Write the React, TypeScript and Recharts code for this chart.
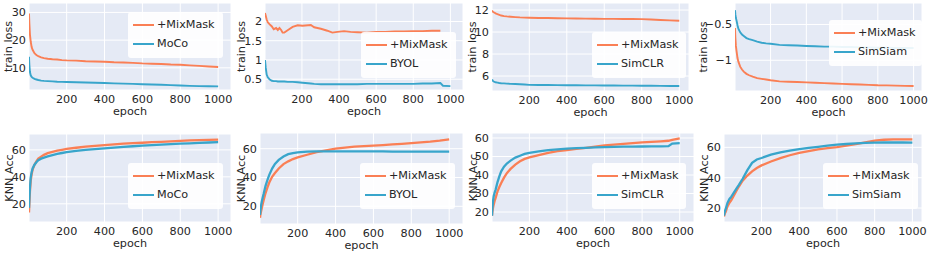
import React from 'react';
import { LineChart, Line, XAxis, YAxis, CartesianGrid, Legend } from 'recharts';

// ---------- data ----------
const EPOCHS = [1, 3, 6, 10, 15, 20, 30, 40, 50, 65, 80, 100, 125, 150, 175, 200, 250, 300, 350, 400, 450, 500, 550, 600, 650, 700, 750, 800, 850, 900, 950, 1000];
const X_TICKS = [200, 400, 600, 800, 1000];
const MIX_NAME = '+MixMask';
const BASE_NAMES = ['MoCo', 'BYOL', 'SimCLR', 'SimSiam'];
const Y_LABELS = ['train loss', 'KNN Acc'];
const X_LABEL = 'epoch';

// train loss
const MOCO_LOSS_MIX = [29.6, 26, 22, 19.5, 17.5, 16.5, 15.3, 14.6, 14.2, 13.8, 13.5, 13.3, 13.1, 13.0, 12.8, 12.7, 12.6, 12.4, 12.3, 12.2, 12.0, 11.9, 11.8, 11.6, 11.5, 11.4, 11.2, 11.1, 10.9, 10.7, 10.5, 10.3];
const MOCO_LOSS = [14, 11, 8.5, 7.3, 6.7, 6.4, 6.0, 5.8, 5.6, 5.4, 5.3, 5.2, 5.1, 5.0, 4.95, 4.9, 4.8, 4.7, 4.6, 4.5, 4.4, 4.3, 4.2, 4.1, 4.0, 3.9, 3.75, 3.6, 3.5, 3.4, 3.35, 3.3];

const BYOL_EPOCHS = [1, 5, 10, 16, 25, 38, 48, 61, 70, 79, 88, 96, 105, 123, 150, 177, 203, 248, 266, 302, 337, 364, 391, 427, 462, 500, 550, 600, 650, 700, 750, 800, 850, 900, 946, 960, 1000];
const BYOL_LOSS_MIX = [2.22, 2.15, 2.05, 1.98, 1.93, 1.87, 1.8, 1.83, 1.78, 1.83, 1.78, 1.71, 1.71, 1.77, 1.86, 1.9, 1.89, 1.91, 1.85, 1.81, 1.76, 1.71, 1.73, 1.75, 1.73, 1.72, 1.71, 1.73, 1.73, 1.74, 1.74, 1.75, 1.75, 1.76, 1.76, null, null];
const BYOL_LOSS = [1.0, 0.8, 0.62, 0.55, 0.5, 0.46, 0.45, 0.45, 0.44, 0.44, 0.44, 0.44, 0.44, 0.43, 0.43, 0.42, 0.41, 0.39, 0.38, 0.37, 0.37, 0.37, 0.37, 0.37, 0.37, 0.37, 0.38, 0.38, 0.38, 0.38, 0.38, 0.38, 0.39, 0.39, 0.40, 0.33, 0.32];

const SIMCLR_LOSS_MIX = [11.95, 11.9, 11.85, 11.8, 11.75, 11.7, 11.62, 11.56, 11.5, 11.45, 11.42, 11.39, 11.36, 11.33, 11.31, 11.3, 11.28, 11.27, 11.25, 11.24, 11.23, 11.22, 11.21, 11.2, 11.2, 11.19, 11.18, 11.17, 11.14, 11.1, 11.06, 11.02];
const SIMCLR_LOSS = [5.68, 5.62, 5.56, 5.5, 5.46, 5.43, 5.4, 5.37, 5.35, 5.33, 5.31, 5.29, 5.27, 5.25, 5.23, 5.2, 5.19, 5.18, 5.17, 5.16, 5.16, 5.15, 5.15, 5.14, 5.14, 5.13, 5.13, 5.12, 5.12, 5.11, 5.1, 5.1];

const SIMSIAM_LOSS_MIX = [-0.55, -0.68, -0.8, -0.88, -0.97, -1.02, -1.09, -1.13, -1.16, -1.19, -1.21, -1.23, -1.25, -1.26, -1.27, -1.28, -1.295, -1.3, -1.305, -1.31, -1.315, -1.32, -1.325, -1.33, -1.335, -1.34, -1.345, -1.35, -1.352, -1.355, -1.358, -1.36];
const SIMSIAM_LOSS = [-0.3, -0.36, -0.41, -0.45, -0.51, -0.56, -0.61, -0.64, -0.66, -0.69, -0.705, -0.72, -0.74, -0.755, -0.765, -0.77, -0.785, -0.79, -0.795, -0.8, -0.805, -0.81, -0.81, -0.815, -0.815, -0.82, -0.82, -0.825, -0.825, -0.83, -0.83, -0.83];

// KNN accuracy
const MOCO_ACC_MIX = [13.5, 20, 29, 37, 42, 45.3, 49, 51.5, 53.5, 55, 56.3, 57.6, 58.6, 59.5, 60.1, 60.7, 61.6, 62.4, 63, 63.6, 64.1, 64.6, 65, 65.3, 65.7, 66, 66.4, 66.7, 67, 67.3, 67.5, 67.7];
const MOCO_ACC = [17, 24, 32, 39.5, 43.5, 46.3, 49, 50.8, 52.3, 53.5, 54.3, 55.2, 56.2, 57.1, 57.7, 58.3, 59.2, 60, 60.6, 61.2, 61.7, 62.2, 62.7, 63.1, 63.5, 63.9, 64.3, 64.6, 64.9, 65.2, 65.5, 65.8];

const BYOL_ACC_MIX = [12, 14, 16, 18.5, 21.5, 24, 29, 33, 36.5, 40.5, 43.1, 46.3, 49.3, 51.2, 52.8, 54, 55.8, 57.6, 58.9, 60, 60.8, 61.4, 61.8, 62.1, 62.5, 63, 63.4, 63.9, 64.4, 64.9, 65.6, 66.5];
const BYOL_ACC = [14, 17, 20, 23, 26, 28.5, 34, 38.2, 41.8, 46.2, 49.4, 52.2, 54.6, 56.2, 57, 57.5, 57.9, 58.2, 58.2, 58.2, 58.2, 58.1, 58.2, 58.2, 58.1, 58, 58, 57.9, 58, 58, 57.9, 57.9];

const SIMCLR_EPOCHS = [1, 3, 6, 10, 15, 20, 30, 40, 50, 65, 80, 100, 125, 150, 175, 200, 250, 300, 350, 400, 450, 500, 550, 600, 650, 700, 750, 800, 850, 900, 940, 960, 1000];
const SIMCLR_ACC_MIX = [18, 20, 22, 24, 26, 27.5, 31, 33.5, 35.7, 38.6, 41, 43.3, 45.6, 47.4, 48.7, 49.5, 50.8, 52, 52.9, 53.5, 54.1, 54.7, 55.3, 56, 56.4, 56.8, 57.2, 57.6, 57.9, 58.2, 58.5, 59, 59.8];
const SIMCLR_ACC = [18, 22, 25.5, 28.5, 30.5, 32, 36, 39.2, 42, 44.5, 46.2, 47.8, 49.4, 50.4, 51.4, 52, 52.8, 53.5, 53.9, 54.3, 54.5, 54.7, 54.9, 55.1, 55.2, 55.3, 55.3, 55.4, 55.5, 55.5, 55.6, 57, 57.2];

const SIMSIAM_ACC_MIX = [14.5, 15.5, 16.5, 17.5, 19.5, 21.2, 23.5, 25.2, 27.5, 31, 34.2, 38, 41.4, 44.2, 46.4, 48.1, 50.7, 52.9, 54.8, 56.3, 57.5, 58.7, 59.5, 60.2, 61.2, 62.2, 63.3, 64.4, 65, 65.3, 65.3, 65.3];
const SIMSIAM_ACC = [15, 16.5, 18, 19.5, 21.5, 23.5, 26, 27.5, 29.5, 32.5, 35.3, 39.3, 45, 49.8, 52, 53, 55.2, 56.7, 57.9, 58.9, 59.6, 60.3, 61.1, 61.8, 62.2, 62.6, 62.9, 63.1, 63.2, 63.3, 63.2, 63.1];

// ---------- style ----------
const ORANGE = '#FA7F55';
const BLUE = '#38A5CB';
const BG = '#E5EAF5';
const TXT = '#262626';
const FF = '"DejaVu Sans", sans-serif';
const FS = 11.2;
const YW = 44;
const MT = 6;
const MR = 6;
const XH = 32;

type PanelCfg = {
  epochs: number[];
  mix: (number | null)[];
  base: (number | null)[];
  baseName: string;
  yLabel: string;
  plot: [number, number, number, number];
  xDomain: [number, number];
  yDomain: [number, number];
  yTicks: number[];
  yLabelDx: number;
  legend: [number, number, number];
  lw: number;
};

const PANELS: PanelCfg[] = [
  { epochs: EPOCHS, mix: MOCO_LOSS_MIX, base: MOCO_LOSS, baseName: BASE_NAMES[0], yLabel: Y_LABELS[0], lw: 1.9,
    plot: [29, 3, 231, 90], xDomain: [1, 1068], yDomain: [2, 33.4], yTicks: [10, 20, 30], yLabelDx: -16.7, legend: [128, 12, 95] },
  { epochs: BYOL_EPOCHS, mix: BYOL_LOSS_MIX, base: BYOL_LOSS, baseName: BASE_NAMES[1], yLabel: Y_LABELS[0], lw: 1.9,
    plot: [265, 3, 463, 90], xDomain: [1, 1068], yDomain: [0.22, 2.48], yTicks: [0.5, 1, 1.5, 2], yLabelDx: -19.7, legend: [361, 32, 95] },
  { epochs: EPOCHS, mix: SIMCLR_LOSS_MIX, base: SIMCLR_LOSS, baseName: BASE_NAMES[2], yLabel: Y_LABELS[0], lw: 1.9,
    plot: [492, 3, 689, 91], xDomain: [1, 1052], yDomain: [4.64, 12.64], yTicks: [6, 8, 10, 12], yLabelDx: -16, legend: [592, 32, 94] },
  { epochs: EPOCHS, mix: SIMSIAM_LOSS_MIX, base: SIMSIAM_LOSS, baseName: BASE_NAMES[3], yLabel: Y_LABELS[0], lw: 1.9,
    plot: [735, 3, 922, 91], xDomain: [1, 1047], yDomain: [-1.43, -0.2], yTicks: [-1, -0.5], yLabelDx: -28, legend: [829, 20, 93] },
  { epochs: EPOCHS, mix: MOCO_ACC_MIX, base: MOCO_ACC, baseName: BASE_NAMES[0], yLabel: Y_LABELS[1], lw: 2.3,
    plot: [29, 134, 231, 222], xDomain: [1, 1068], yDomain: [6.5, 71.8], yTicks: [20, 40, 60], yLabelDx: -16.3, legend: [128, 163, 95] },
  { epochs: EPOCHS, mix: BYOL_ACC_MIX, base: BYOL_ACC, baseName: BASE_NAMES[1], yLabel: Y_LABELS[1], lw: 2.3,
    plot: [260, 133, 463, 224], xDomain: [1, 1073], yDomain: [7.7, 70.9], yTicks: [20, 40, 60], yLabelDx: -15, legend: [360, 163, 95] },
  { epochs: SIMCLR_EPOCHS, mix: SIMCLR_ACC_MIX, base: SIMCLR_ACC, baseName: BASE_NAMES[2], yLabel: Y_LABELS[1], lw: 2.3,
    plot: [492, 133, 694, 222], xDomain: [1, 1076], yDomain: [14.6, 62.7], yTicks: [20, 30, 40, 50, 60], yLabelDx: -15.5, legend: [592, 163, 94] },
  { epochs: EPOCHS, mix: SIMSIAM_ACC_MIX, base: SIMSIAM_ACC, baseName: BASE_NAMES[3], yLabel: Y_LABELS[1], lw: 2.3,
    plot: [724, 134, 922, 222], xDomain: [1, 1051], yDomain: [10.8, 68.8], yTicks: [20, 40, 60], yLabelDx: -16, legend: [823, 163, 95] },
];

const fmt = (v: number) => String(v).replace('-', '\u2212');

const tickStyle = { fill: TXT, fontSize: FS, fontFamily: FF };

function XLabel(props: any) {
  const vb = props.viewBox || {};
  return (
    <text x={vb.x + vb.width / 2} y={vb.y + 24.8} textAnchor="middle" fontSize={FS} fontFamily={FF} fill={TXT}>
      {X_LABEL}
    </text>
  );
}

function LegendBox({ names, colors, w }: { names: string[]; colors: string[]; w: number }) {
  return (
    <div style={{ width: w, height: 46, background: 'rgba(255,255,255,0.9)', borderRadius: 3, position: 'relative', fontFamily: FF, fontSize: FS, color: TXT }}>
      {names.map((n, i) => (
        <div key={n} style={{ position: 'absolute', left: 0, top: 13 + i * 19 - 8, height: 16, width: w }}>
          <div style={{ position: 'absolute', left: 5, top: 7, width: 21, height: 2, background: colors[i] }} />
          <div style={{ position: 'absolute', left: 29, top: 0, lineHeight: '16px', whiteSpace: 'nowrap' }}>{n}</div>
        </div>
      ))}
    </div>
  );
}

function Panel({ p }: { p: PanelCfg }) {
  const data = p.epochs.map((e, i) => ({ epoch: e, mix: p.mix[i], base: p.base[i] }));
  const [x0, y0, x1, y1] = p.plot;
  const left = x0 - YW;
  const top = y0 - MT;
  const w = x1 - x0 + YW + MR;
  const h = y1 - y0 + MT + XH;
  const names = [MIX_NAME, p.baseName];
  const colors = [ORANGE, BLUE];
  const lx = YW + p.yLabelDx;
  const ly = MT + (y1 - y0) / 2;
  return (
    <div style={{ position: 'absolute', left, top, width: w, height: h }}>
      <LineChart width={w} height={h} data={data} margin={{ top: MT, right: MR, bottom: 0, left: 0 }}>
        <CartesianGrid stroke="#ffffff" strokeWidth={1} fill={BG} fillOpacity={1} />
        <XAxis
          dataKey="epoch"
          type="number"
          domain={p.xDomain}
          allowDataOverflow
          ticks={X_TICKS}
          interval={0}
          tickLine={false}
          axisLine={false}
          tickSize={0}
          tickMargin={5.5}
          height={XH}
          tick={tickStyle}
          label={XLabel}
        />
        <YAxis
          type="number"
          domain={p.yDomain}
          allowDataOverflow
          ticks={p.yTicks}
          interval={0}
          tickLine={false}
          axisLine={false}
          tickSize={0}
          tickMargin={3}
          width={YW}
          tick={tickStyle}
          tickFormatter={fmt}
        />
        <Line dataKey="mix" name={MIX_NAME} stroke={ORANGE} strokeWidth={p.lw} dot={false} type="linear" isAnimationActive={false} />
        <Line dataKey="base" name={p.baseName} stroke={BLUE} strokeWidth={p.lw} dot={false} type="linear" isAnimationActive={false} />
        <Legend
          align="center"
          verticalAlign="middle"
          layout="vertical"
          wrapperStyle={{ left: p.legend[0] - left, top: p.legend[1] - top, width: p.legend[2], height: 46, right: 'auto', bottom: 'auto', margin: 0, padding: 0 }}
          content={() => <LegendBox names={names} colors={colors} w={p.legend[2]} />}
        />
      </LineChart>
      <svg width={w} height={h} style={{ position: 'absolute', left: 0, top: 0, pointerEvents: 'none', overflow: 'visible' }}>
        <text x={lx} y={ly} transform={`rotate(-90, ${lx}, ${ly})`} textAnchor="middle" fontSize={FS} fontFamily={FF} fill={TXT}>
          {p.yLabel}
        </text>
      </svg>
    </div>
  );
}

export default function App() {
  return (
    <div style={{ position: 'absolute', left: 0, top: 0, width: 933, height: 256, background: '#ffffff', overflow: 'hidden' }}>
      {PANELS.map((p, i) => (
        <Panel key={i} p={p} />
      ))}
    </div>
  );
}
